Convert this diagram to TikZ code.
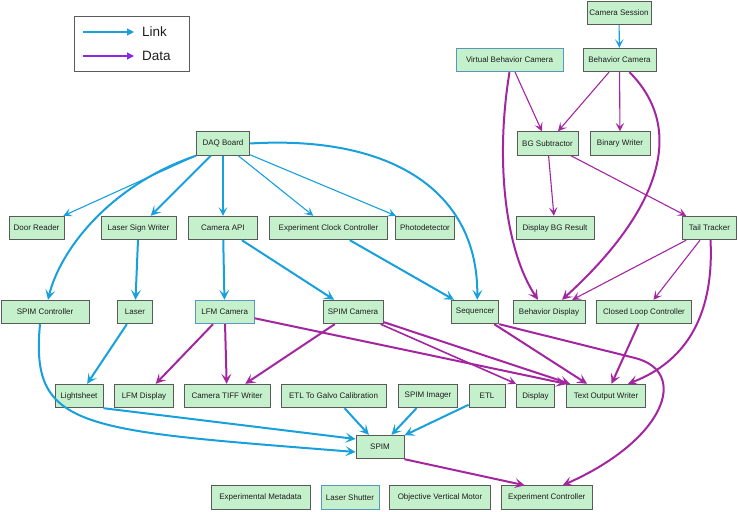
\documentclass[tikz,border=0pt]{standalone}
\usepackage{fontspec}
\setmainfont{Liberation Sans}
\usetikzlibrary{arrows.meta}
\definecolor{nodefill}{RGB}{197,240,204}
\definecolor{nodeline}{RGB}{90,90,90}
\definecolor{nodeblue}{RGB}{90,150,190}
\definecolor{linkc}{RGB}{24,160,220}
\definecolor{datac}{RGB}{163,38,160}
\definecolor{datalegend}{RGB}{140,40,225}
\definecolor{txt}{RGB}{30,30,30}
\begin{document}
\begin{tikzpicture}[x=1pt,y=-1pt,
  box/.style={draw=nodeline, fill=nodefill, line width=0.9pt, minimum height=23.5pt, inner sep=0pt, font=\fontsize{8}{9.6}\selectfont, text=txt},
  bluebox/.style={box, draw=nodeblue},
  link/.style={draw=linkc, line width=1.1pt, -{Stealth[length=8.5pt,width=8.5pt,inset=3.8pt]}},
  linkT/.style={draw=linkc, line width=2pt, -{Stealth[length=10pt,width=10pt,inset=4.5pt]}},
  data/.style={draw=datac, line width=1.1pt, -{Stealth[length=8.5pt,width=8.5pt,inset=3.8pt]}},
  dataT/.style={draw=datac, line width=2pt, -{Stealth[length=10pt,width=10pt,inset=4.5pt]}},
  legtxt/.style={anchor=west, inner sep=0pt, font=\fontsize{13.5}{16}\selectfont, text=txt}
]
\useasboundingbox (0,0) rectangle (738,511);

% legend
\node[draw=nodeline, line width=0.7pt, minimum width=115pt, minimum height=55pt, inner sep=0pt] (legend) at (131.5,43.5) {};
\coordinate (la1) at (83,32);
\coordinate (lb1) at (134,32);
\coordinate (la2) at (83,56);
\coordinate (lb2) at (134,56);
\draw[linkc, line width=1.2pt, -{Triangle[length=7pt,width=7pt]}] (la1) -- (lb1);
\draw[datalegend, line width=1.2pt, -{Triangle[length=7pt,width=7pt]}] (la2) -- (lb2);
\node[legtxt] (linklab) at (142,32) {Link};
\node[legtxt] (datalab) at (142,56) {Data};

% nodes
\node[box, minimum width=64pt] (camsess) at (619,13) {Camera Session};
\node[bluebox, minimum width=107pt] (vbc) at (509.5,60) {Virtual Behavior Camera};
\node[box, minimum width=73pt] (bcam) at (619.5,60) {Behavior Camera};
\node[box, minimum width=61pt] (bgsub) at (547.5,143.5) {BG Subtractor};
\node[box, minimum width=60pt] (binw) at (620,143.5) {Binary Writer};
\node[box, minimum width=53pt] (daq) at (223,143.5) {DAQ Board};
\node[box, minimum width=55pt] (door) at (36.5,228) {Door Reader};
\node[box, minimum width=75pt] (lsw) at (138.5,228) {Laser Sign Writer};
\node[box, minimum width=69pt] (camapi) at (223,228) {Camera API};
\node[box, minimum width=118pt] (ecc) at (328.5,228) {Experiment Clock Controller};
\node[box, minimum width=59pt] (photo) at (425,228) {Photodetector};
\node[box, minimum width=78pt] (dbg) at (555,228) {Display BG Result};
\node[box, minimum width=54pt] (tail) at (709.5,228) {Tail Tracker};
\node[box, minimum width=88pt] (spimctl) at (45,312) {SPIM Controller};
\node[box, minimum width=35pt] (laser) at (135,312) {Laser};
\node[bluebox, minimum width=59pt] (lfmcam) at (224.7,312) {LFM Camera};
\node[box, minimum width=60pt] (spimcam) at (353,312) {SPIM Camera};
\node[box, minimum width=47pt] (seq) at (475.3,312) {Sequencer};
\node[box, minimum width=72pt] (bdisp) at (549,312) {Behavior Display};
\node[box, minimum width=95pt] (clc) at (644,312) {Closed Loop Controller};
\node[box, minimum width=48pt] (ls) at (79,396) {Lightsheet};
\node[box, minimum width=59pt] (lfmdisp) at (144,396) {LFM Display};
\node[box, minimum width=86pt] (tiff) at (227,396) {Camera TIFF Writer};
\node[box, minimum width=105pt] (etlg) at (333.5,396) {ETL To Galvo Calibration};
\node[box, minimum width=59pt] (spimimg) at (428,396) {SPIM Imager};
\node[box, minimum width=36pt] (etl) at (487,396) {ETL};
\node[box, minimum width=38pt] (disp) at (535.5,396) {Display};
\node[box, minimum width=79pt] (tow) at (606,396) {Text Output Writer};
\node[box, minimum width=48pt] (spim) at (380,447) {SPIM};
\node[box, minimum width=99pt] (expmeta) at (260.5,497.5) {Experimental Metadata};
\node[bluebox, minimum width=58pt] (lshut) at (350,497.5) {Laser Shutter};
\node[box, minimum width=101pt] (objvm) at (440,497.5) {Objective Vertical Motor};
\node[box, minimum width=91pt] (expctl) at (546.7,497.5) {Experiment Controller};

\coordinate (bend1) at (635,358);

% link edges
\draw[link] (camsess) -- (bcam);
\draw[link] (daq) -- (door);
\draw[linkT] (daq.south west) .. controls (110,185) and (60,250) .. ([xshift=3pt]spimctl.north);
\draw[linkT] (daq) -- (lsw);
\draw[link, line width=1.4pt] (daq) -- (camapi);
\draw[link] (daq) -- (ecc);
\draw[link] (daq) -- (photo);
\draw[linkT] (daq.east) .. controls (390,135) and (478,190) .. ([xshift=2pt]seq.north);
\draw[linkT] (lsw) -- (laser);
\draw[linkT] (camapi) -- (lfmcam);
\draw[linkT] (camapi) -- (spimcam);
\draw[linkT] (ecc) -- (seq);
\draw[linkT] (laser) -- (ls);
\draw[linkT] ([xshift=-5pt]spimctl.south) .. controls (30,430) and (80,430) .. ([yshift=-5pt]spim.west);
\draw[linkT] (ls.south east) -- ([yshift=8pt]spim.west);
\draw[linkT] (etlg) -- (spim);
\draw[linkT] (spimimg) -- (spim);
\draw[linkT] (etl) -- (spim);

% data edges
\draw[data] (vbc) -- (bgsub);
\draw[dataT] (vbc.south) .. controls (495,160) and (505,250) .. ([xshift=-11pt]bdisp.north);
\draw[data] (bcam) -- (bgsub);
\draw[data] (bcam) -- (binw);
\draw[dataT] ([xshift=10pt]bcam.south) .. controls (692,135) and (650,220) .. ([xshift=13pt]bdisp.north);
\draw[data] (bgsub) -- (dbg);
\draw[data] (bgsub) -- (tail);
\draw[data] (tail) -- (bdisp);
\draw[data] (tail) -- (clc);
\draw[dataT] ([xshift=1pt]tail.south) .. controls (714,310) and (690,360) .. ([xshift=22pt]tow.north);
\draw[dataT] (clc) -- (tow);
\draw[dataT] (seq) -- (tow);
\draw[dataT] (seq.south east) -- (bend1) .. controls (690,372) and (665,440) .. ([xshift=16pt]expctl.north);
\draw[dataT] (lfmcam) -- (lfmdisp);
\draw[dataT] (lfmcam) -- (tiff);
\draw[dataT] (lfmcam) -- (tow.north west);
\draw[dataT] (spimcam) -- (tiff);
\draw[data, line width=1.6pt] (spimcam) -- (disp.north west);
\draw[dataT] (spimcam) -- ([xshift=4pt]tow.north west);
\draw[dataT] (spim.south east) -- ([xshift=-22pt]expctl.north);
\end{tikzpicture}
\end{document}
